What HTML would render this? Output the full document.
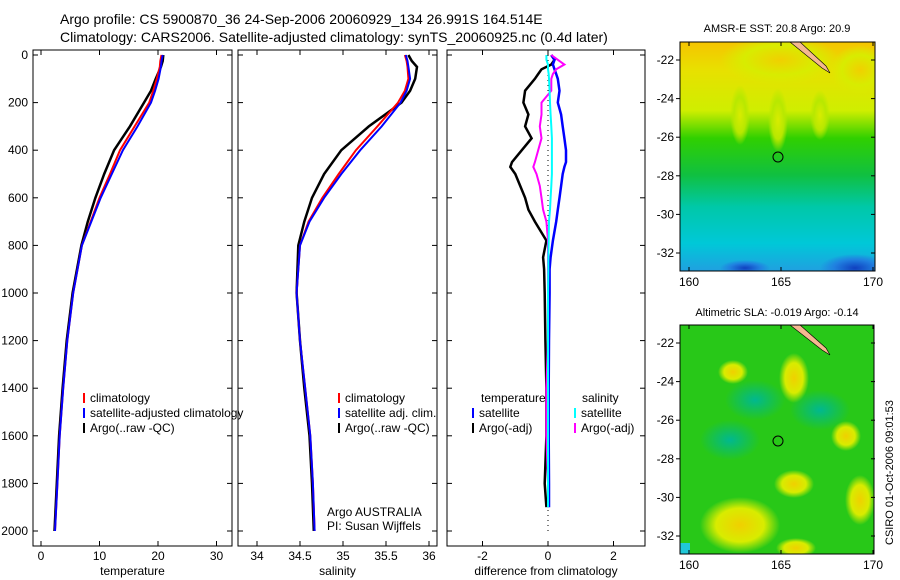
<!DOCTYPE html>
<html><head><meta charset="utf-8"><style>
body{margin:0;background:#fff}
svg{display:block;font-family:"Liberation Sans",sans-serif}
text{font-size:12px;fill:#000}
</style></head><body>
<svg id="s" width="900" height="580" viewBox="0 0 900 580" xmlns="http://www.w3.org/2000/svg">
<defs>
<linearGradient id="g1" x1="0" y1="0" x2="0" y2="1">
<stop offset="0" stop-color="#f5c400"/><stop offset="0.12" stop-color="#e8e000"/><stop offset="0.3" stop-color="#cfee00"/><stop offset="0.42" stop-color="#30d000"/><stop offset="0.58" stop-color="#10c040"/><stop offset="0.72" stop-color="#00c8a8"/><stop offset="0.88" stop-color="#00c8d8"/><stop offset="1" stop-color="#20a0e0"/>
</linearGradient>
<radialGradient id="yb"><stop offset="0" stop-color="#f0d000"/><stop offset="0.6" stop-color="#d8ec00"/><stop offset="1" stop-color="#d8ec00" stop-opacity="0"/></radialGradient>
<radialGradient id="fb"><stop offset="0" stop-color="#d8ec00"/><stop offset="0.6" stop-color="#b8e800"/><stop offset="1" stop-color="#b8e800" stop-opacity="0"/></radialGradient>
<radialGradient id="bb"><stop offset="0" stop-color="#1040c0"/><stop offset="0.6" stop-color="#2080e0"/><stop offset="1" stop-color="#2080e0" stop-opacity="0"/></radialGradient>
<radialGradient id="tb"><stop offset="0" stop-color="#00b890"/><stop offset="1" stop-color="#00b890" stop-opacity="0"/></radialGradient>
<clipPath id="c1"><rect x="680" y="42" width="195" height="229"/></clipPath>
<clipPath id="c2"><rect x="680" y="325" width="194" height="229"/></clipPath>
</defs>
<text x="60" y="24" style="font-size:14px">Argo profile: CS 5900870_36 24-Sep-2006 20060929_134 26.991S 164.514E</text>
<text x="60" y="42" style="font-size:14px">Climatology: CARS2006. Satellite-adjusted climatology: synTS_20060925.nc (0.4d later)</text>
<g id="plots"></g>
<g clip-path="url(#c1)">
<rect x="680" y="42" width="195" height="229" fill="url(#g1)"/>
<ellipse cx="780" cy="60" rx="60" ry="25" fill="url(#yb)"/>
<ellipse cx="860" cy="70" rx="30" ry="25" fill="url(#yb)"/>
<ellipse cx="740" cy="115" rx="10" ry="30" fill="url(#fb)"/>
<ellipse cx="778" cy="120" rx="10" ry="32" fill="url(#fb)"/>
<ellipse cx="820" cy="115" rx="10" ry="25" fill="url(#fb)"/>
<ellipse cx="855" cy="268" rx="35" ry="14" fill="url(#bb)"/>
<ellipse cx="745" cy="268" rx="25" ry="8" fill="url(#bb)"/>
<path d="M790 42 L822 68 L830 73 L826 66 L800 42Z" fill="#f5b890" stroke="#000" stroke-width="0.6"/>
<circle cx="778" cy="157" r="5" fill="none" stroke="#000"/>
</g>
<rect x="680" y="42" width="195" height="229" fill="none" stroke="#000"/>
<text x="777" y="32" text-anchor="middle" style="font-size:11px">AMSR-E SST: 20.8 Argo: 20.9</text>
<g clip-path="url(#c2)">
<rect x="680" y="325" width="194" height="229" fill="#28c818"/>
<ellipse cx="733" cy="372" rx="15" ry="12" fill="url(#yb)"/>
<ellipse cx="794" cy="378" rx="15" ry="25" fill="url(#yb)"/>
<ellipse cx="846" cy="436" rx="15" ry="15" fill="url(#yb)"/>
<ellipse cx="794" cy="484" rx="20" ry="14" fill="url(#yb)"/>
<ellipse cx="740" cy="525" rx="40" ry="28" fill="url(#yb)"/>
<ellipse cx="860" cy="500" rx="15" ry="25" fill="url(#yb)"/>
<ellipse cx="796" cy="548" rx="20" ry="10" fill="url(#yb)"/>
<ellipse cx="755" cy="400" rx="30" ry="20" fill="url(#tb)"/>
<ellipse cx="820" cy="410" rx="30" ry="20" fill="url(#tb)"/>
<ellipse cx="730" cy="440" rx="30" ry="20" fill="url(#tb)"/>
<rect x="680" y="543" width="10" height="11" fill="#20c8d8"/>
<path d="M790 325 L822 350 L830 355 L826 348 L800 325Z" fill="#f5b890" stroke="#000" stroke-width="0.6"/>
<circle cx="778" cy="441" r="5" fill="none" stroke="#000"/>
</g>
<rect x="680" y="325" width="194" height="229" fill="none" stroke="#000"/>
<text x="777" y="316" text-anchor="middle" style="font-size:11px">Altimetric SLA: -0.019 Argo: -0.14</text>
<text transform="translate(893,545) rotate(-90)" style="font-size:11px">CSIRO 01-Oct-2006 09:01:53</text>
<g id="maps"></g>
</svg>
<script>
const NS="http://www.w3.org/2000/svg";
const depths=[0,25,50,100,150,200,300,400,500,600,700,800,1000,1200,1400,1600,1800,2000];
const tempClim=[20.6,20.4,20.3,19.8,19.2,18.5,16.0,13.5,11.8,10.0,8.5,7.0,5.5,4.5,3.8,3.2,2.8,2.4];
const tempSat=[20.8,20.6,20.5,20.1,19.5,18.8,16.5,14.0,12.1,10.2,8.6,7.0,5.5,4.5,3.8,3.2,2.8,2.4];
const tempArgo=[20.9,20.8,20.5,19.6,18.8,17.6,15.2,12.5,10.8,9.3,8.0,6.9,5.4,4.4,3.7,3.1,2.7,2.3];
const salClim=[35.72,35.74,35.75,35.76,35.72,35.64,35.4,35.15,34.95,34.76,34.6,34.5,34.46,34.5,34.56,34.62,34.65,34.67];
const salSat=[35.73,35.75,35.76,35.78,35.74,35.67,35.45,35.2,34.98,34.78,34.61,34.5,34.46,34.5,34.56,34.62,34.65,34.67];
const salArgo=[35.76,35.8,35.86,35.84,35.78,35.68,35.3,34.98,34.78,34.64,34.55,34.48,34.46,34.5,34.55,34.61,34.64,34.66];
const diffDepths=[0,20,40,60,80,100,150,200,250,300,350,400,450,470,500,550,600,650,700,780,850,900,1000,1200,1400,1600,1800,1900];
const dTempArgo=[0.1,0.2,0.1,-0.2,-0.3,-0.4,-0.7,-0.75,-0.6,-0.7,-0.5,-0.8,-1.1,-1.15,-1.0,-0.85,-0.7,-0.6,-0.4,-0.05,-0.15,-0.12,-0.1,-0.08,-0.05,-0.05,-0.1,-0.05];
const dTempSat=[0.1,0.2,0.15,0.2,0.25,0.3,0.35,0.3,0.4,0.45,0.5,0.55,0.55,0.5,0.45,0.4,0.35,0.3,0.25,0.15,0.08,0.05,0.05,0.03,0.02,0.02,0.03,0.03];
const dSalArgo=[0.1,0.3,0.5,0.25,0.15,0.1,0.1,-0.2,-0.2,-0.25,-0.2,-0.3,-0.4,-0.45,-0.35,-0.25,-0.2,-0.15,-0.05,0,0,0,0,0,-0.05,-0.05,0,0];
const dSalSat=[-0.05,-0.05,0,0,0.02,0.03,0.05,0.06,0.08,0.1,0.12,0.12,0.12,0.12,0.12,0.1,0.08,0.06,0.03,0.02,0.01,0.01,0,0,0,0,0,0];
const tempTicks=[0,10,20,30], salTicks=[34,34.5,35,35.5,36], diffTicks=[-2,0,2];
const depthTicks=[0,200,400,600,800,1000,1200,1400,1600,1800,2000];
const lonTicks=[160,165,170], latTicks=[-22,-24,-26,-28,-30,-32];
const svg=document.getElementById('plots');
function el(tag,attrs,parent){const e=document.createElementNS(NS,tag);for(const k in attrs)e.setAttribute(k,attrs[k]);(parent||svg).appendChild(e);return e;}
const yD=d=>55+d*0.238;
const panels=[
 {x0:33,x1:232,sx:v=>41+v*5.85,ticks:tempTicks,label:'temperature',name:'temperature-panel'},
 {x0:238,x1:437,sx:v=>257+(v-34)*86,ticks:salTicks,label:'salinity',name:'salinity-panel'},
 {x0:447,x1:645,sx:v=>548+v*32.75,ticks:diffTicks,label:'difference from climatology',name:'difference-panel'}];
function line(xs,ds,sx,color,w,name){
 const pts=xs.map((v,i)=>sx(v).toFixed(1)+','+yD(ds[i]).toFixed(1)).join(' ');
 const p=el('polyline',{points:pts,fill:'none',stroke:color,'stroke-width':w});
 
 
}
panels.forEach((p,pi)=>{
 const g=el('g',{});
 
 
 el('rect',{x:p.x0,y:50,width:p.x1-p.x0,height:496,fill:'none',stroke:'#000'},g);
 p.ticks.forEach(t=>{const x=p.sx(t);el('line',{x1:x,x2:x,y1:546,y2:541,stroke:'#000'},g);el('line',{x1:x,x2:x,y1:50,y2:55,stroke:'#000'},g);
  const tx=el('text',{x:x,y:560,'text-anchor':'middle'},g);tx.textContent=String(t);
  
  });
 depthTicks.forEach(d=>{const y=yD(d);el('line',{x1:p.x0,x2:p.x0+5,y1:y,y2:y,stroke:'#000'},g);el('line',{x1:p.x1,x2:p.x1-5,y1:y,y2:y,stroke:'#000'},g);});
 const lb=el('text',{x:(p.x0+p.x1)/2,y:575,'text-anchor':'middle'},g);lb.textContent=p.label;
 
 
});
depthTicks.forEach(d=>{const t=el('text',{x:28,y:yD(d)+4,'text-anchor':'end'});t.textContent=String(d);
 
 });
const P=panels;
line(tempArgo,depths,P[0].sx,'#000',2.5,'temp-argo-line');
line(tempClim,depths,P[0].sx,'#f00',2,'temp-clim-line');
line(tempSat,depths,P[0].sx,'#00f',2,'temp-sat-line');
line(salArgo,depths,P[1].sx,'#000',2.5,'sal-argo-line');
line(salClim,depths,P[1].sx,'#f00',2,'sal-clim-line');
line(salSat,depths,P[1].sx,'#00f',2,'sal-sat-line');
el('line',{x1:548,x2:548,y1:55,y2:531,stroke:'#000','stroke-dasharray':'1,4'});
line(dTempArgo,diffDepths,P[2].sx,'#000',2.5,'diff-temp-argo');
line(dTempSat,diffDepths,P[2].sx,'#00f',2.5,'diff-temp-sat');
line(dSalArgo,diffDepths,P[2].sx,'#f0f',2,'diff-sal-argo');
line(dSalSat,diffDepths,P[2].sx,'#0ff',2,'diff-sal-sat');
function legend(x,y,items,name){items.forEach((it,i)=>{const yy=y+i*15;
 if(it[1])el('line',{x1:x,x2:x,y1:yy-9,y2:yy+1,stroke:it[1],'stroke-width':2});
 const t=el('text',{x:x+(it[1]?6:0),y:yy});t.textContent=it[0];
 
 });}
legend(84,402,[['climatology','#f00'],['satellite-adjusted climatology','#00f'],['Argo(..raw -QC)','#000']],'temp-legend-entry');
legend(339,402,[['climatology','#f00'],['satellite adj. clim.','#00f'],['Argo(..raw -QC)','#000']],'sal-legend-entry');
legend(481,402,[['temperature',null]],'diff-legend-entry');
legend(473,417,[['satellite','#00f'],['Argo(-adj)','#000']],'diff-legend-entry');
legend(582,402,[['salinity',null]],'diff-legend-entry');
legend(575,417,[['satellite','#0ff'],['Argo(-adj)','#f0f']],'diff-legend-entry');
const a1=el('text',{x:327,y:516});a1.textContent='Argo AUSTRALIA';


const a2=el('text',{x:327,y:530});a2.textContent='PI: Susan Wijffels';


const mg=document.getElementById('maps');
[[42,271,60,253],[325,554,343,536]].forEach(m=>{
 lonTicks.forEach(l=>{const x=689+(l-160)*18.4;el('line',{x1:x,x2:x,y1:m[1],y2:m[1]-4,stroke:'#000'},mg);el('line',{x1:x,x2:x,y1:m[0],y2:m[0]+4,stroke:'#000'},mg);
  const t=el('text',{x:x,y:m[1]+15,'text-anchor':'middle'},mg);t.textContent=String(l);
  
  });
 latTicks.forEach(l=>{const y=m[2]+(-22-l)*(m[3]-m[2])/10;el('line',{x1:676,x2:680,y1:y,y2:y,stroke:'#000'},mg);el('line',{x1:871,x2:875,y1:y,y2:y,stroke:'#000'},mg);
  const t=el('text',{x:674,y:y+4,'text-anchor':'end'},mg);t.textContent=String(l);
  
  });
});
</script>
</body></html>
